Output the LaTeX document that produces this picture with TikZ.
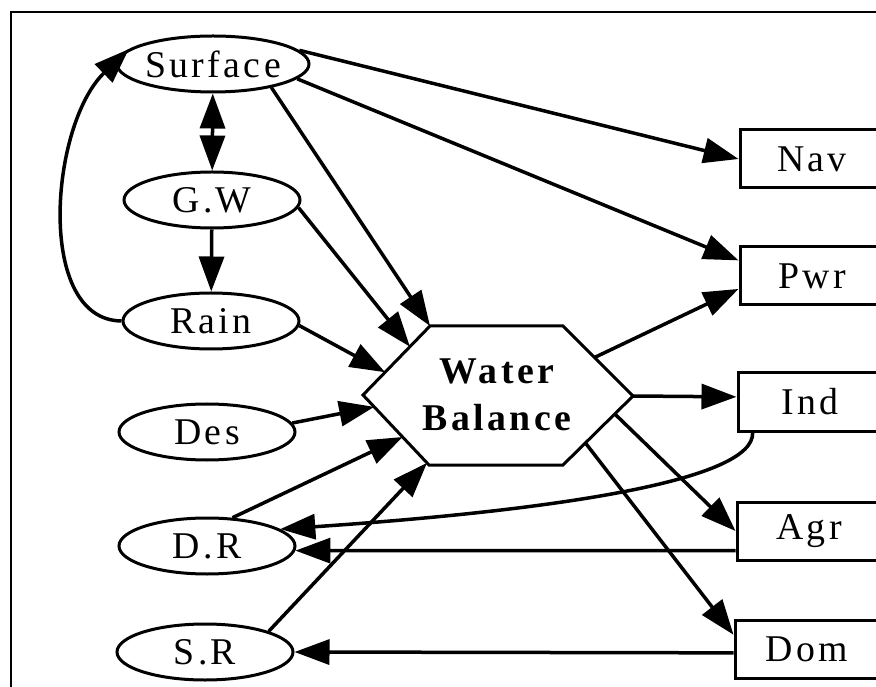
\documentclass[tikz,border=0pt]{standalone}
\usepackage{fontspec}
\setmainfont{Liberation Serif}[LetterSpace=9]
\usetikzlibrary{arrows.meta,shapes.geometric,calc}

\begin{document}
\begin{tikzpicture}[x=.2mm,y=-.2mm,line width=.7mm,font=\fontsize{21.5}{26.7}\selectfont,
  >={Triangle[length=7mm,width=5mm]},
  src/.style={draw,ellipse,line width=.6mm,minimum width=35.2mm,minimum height=11.2mm,inner sep=0pt},
  dem/.style={draw,rectangle,line width=.6mm,minimum width=28.8mm,minimum height=11.6mm,inner sep=0pt},
  flow/.style={->}]
\useasboundingbox (0,0) rectangle (876,687);
\draw[line width=.4mm] (11,700)--(11,12)--(890,12);
% sources on the left
\node[src] (surface) at (213,64) {Surface};\node[src] (gw) at (212,200) {G.W};
\node[src] (rain) at (211,321) {Rain};\node[src] (des) at (207,432) {Des};
\node[src] (dr) at (207,546) {D.R};\node[src] (sr) at (205,652) {S.R};
% demands on the right
\node[dem] (nav) at (812,159) {Nav};\node[dem] (pwr) at (812,276) {Pwr};
\node[dem] (ind) at (810,402) {Ind};\node[dem] (agr) at (809,531) {Agr};
\node[dem] (dom) at (807,649) {Dom};
% balance hexagon
\coordinate (l) at (363,395);\coordinate (tl) at (430,326);\coordinate (tr) at (563,326);
\coordinate (r) at (633,396);\coordinate (br) at (563,465);\coordinate (bl) at (429,465);
\draw[line width=.6mm] (l)--(tl)--(tr)--(r)--(br)--(bl)--cycle;
\node[align=center,font=\fontsize{21.5}{26.7}\selectfont\bfseries] (wb) at (497,395) {Water\\Balance};
% flows in
\draw[flow] (surface.9)--(nav.west);\draw[flow] (surface.-10)--(pwr.168);
\draw[flow] (surface.-22)--(tl);\draw[<->] (surface)--(gw);
\draw[flow] (gw.-5)--($(tl)!.3!(l)$);\draw[flow] (gw)--(rain);
\draw[flow] (rain.west) .. controls (35,320) and (50,125) .. (surface.170);
\draw[flow] (rain.-3)--($(tl)!.67!(l)$);\draw[flow] (des.6)--($(l)!.17!(bl)$);
\draw[flow] (dr.48)--($(l)!.6!(bl)$);\draw[flow] (sr.18)--($(l)!.97!(bl)$);
% flows out and returns
\draw[flow] ($(tr)!.45!(r)$)--(pwr.190);\draw[flow] (r)--(ind.176);
\draw[flow] ($(r)!.26!(br)$)--(agr.180);\draw[flow] ($(r)!.68!(br)$)--(dom.169);
\draw[flow] (ind.208) .. controls (755,480) and (560,510) .. (dr.13);
\draw[flow] (agr.195)--(dr.-3);\draw[flow] (dom.183)--(sr.east);
\end{tikzpicture}
\end{document}
